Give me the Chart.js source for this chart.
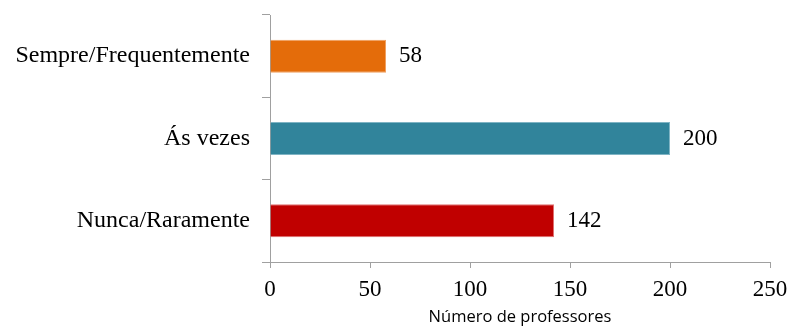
<!DOCTYPE html>
<html>
<head>
<meta charset="utf-8">
<script src="https://cdn.jsdelivr.net/npm/chart.js@4"></script>
<style>
  html, body { margin: 0; padding: 0; background: #fff; }
  #wrap { width: 792px; height: 327px; position: relative; }
</style>
</head>
<body>
<div id="wrap"><canvas id="chart"></canvas></div>
<script>
const categories = ['Sempre/Frequentemente', 'Ás vezes', 'Nunca/Raramente'];
const values = [58, 200, 142];
const barColors = ['#E46C0A', '#31849B', '#C00000'];
const borderColors = ['#F0A060', '#7FB4C4', '#E07070'];
const xTitle = 'Número de professores';

const serif = '"Liberation Serif", "DejaVu Serif", serif';

// values printed right of each bar
const valueLabels = {
    id: 'valueLabels',
    afterDatasetsDraw(chart) {
        const ctx = chart.ctx;
        const meta = chart.getDatasetMeta(0);
        ctx.save();
        ctx.font = '23px ' + serif;
        ctx.fillStyle = '#000';
        ctx.textBaseline = 'middle';
        ctx.textAlign = 'left';
        meta.data.forEach((bar, i) => {
            ctx.fillText(String(values[i]), bar.x + 13, bar.y);
        });
        ctx.restore();
    }
};

new Chart(document.getElementById('chart'), {
    type: 'bar',
    data: {
        labels: categories,
        datasets: [{
            data: values,
            backgroundColor: barColors,
            borderColor: borderColors,
            borderWidth: 1,
            borderSkipped: 'start',
            categoryPercentage: 1,
            barPercentage: 0.4
        }]
    },
    options: {
        indexAxis: 'y',
        responsive: true,
        maintainAspectRatio: false,
        animation: false,
        layout: { padding: { left: 0, right: 22, top: 15, bottom: 0 } },
        plugins: { legend: { display: false }, tooltip: { enabled: false } },
        scales: {
            x: {
                min: 0, max: 250,
                ticks: { stepSize: 50, color: '#000', font: { size: 23, family: serif }, padding: 8 },
                grid: { drawOnChartArea: false, color: '#A0A0A0', tickLength: 6 },
                border: { color: '#A0A0A0' },
                title: { display: true, text: xTitle, color: '#000',
                         font: { size: 16.5, family: '"Open Sans", sans-serif' }, padding: { top: 0, bottom: 0 } },
                afterFit(scale) {
                    scale.height = 65;
                    scale.paddingLeft = 0;
                    scale.paddingRight = 0;
                }
            },
            y: {
                offset: true,
                ticks: { color: '#000', font: { size: 24, family: serif }, padding: 12 },
                grid: { drawOnChartArea: false, offset: true, color: '#A0A0A0', tickLength: 8 },
                border: { color: '#A0A0A0' },
                afterFit(scale) {
                    scale.width = 270;
                    scale.paddingTop = 0;
                    scale.paddingBottom = 0;
                }
            }
        }
    },
    plugins: [valueLabels]
});
</script>
</body>
</html>
